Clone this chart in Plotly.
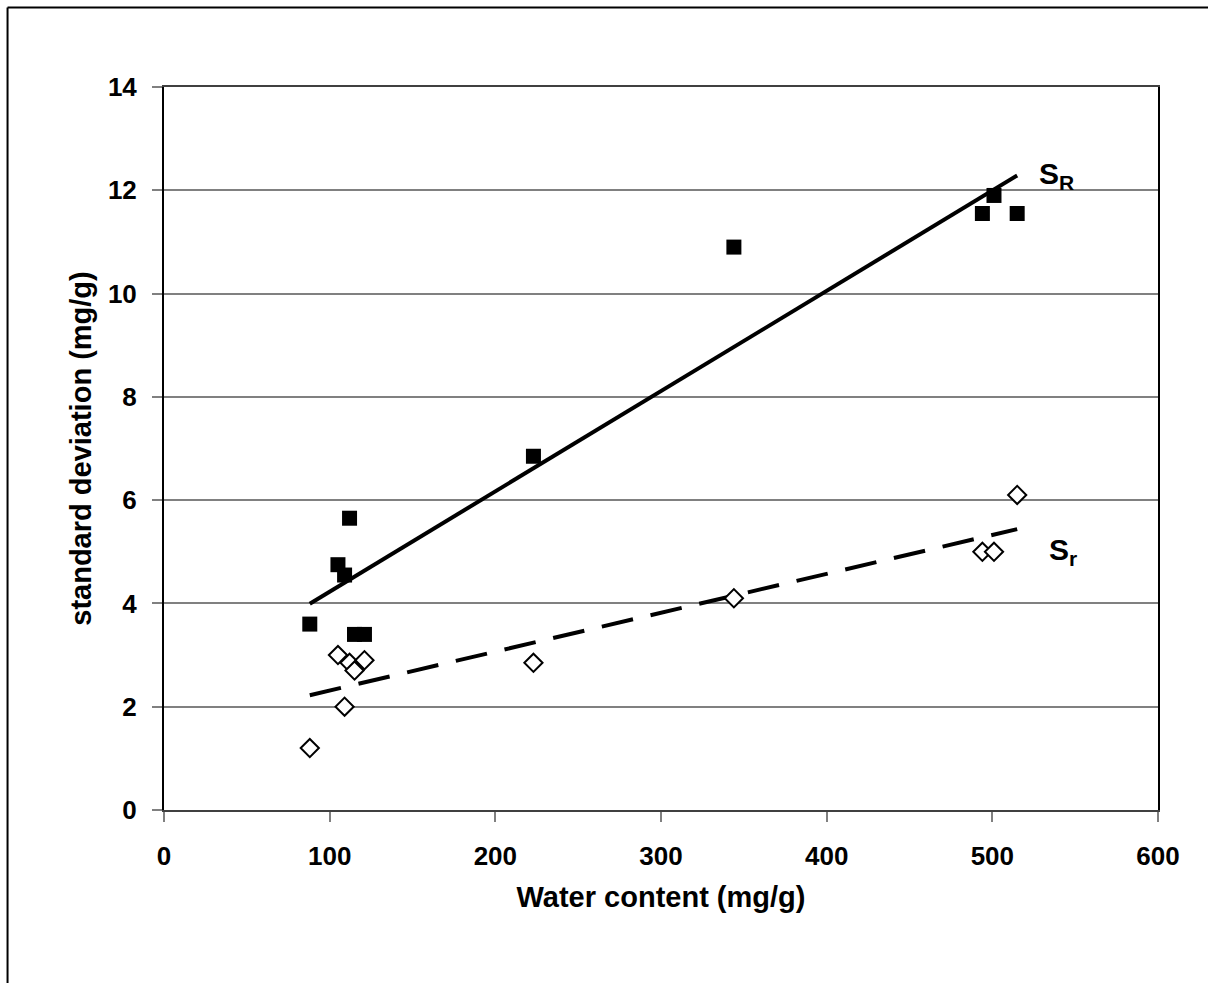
import numpy as np
import plotly.graph_objects as go

# Data
water_content = [88, 105, 109, 112, 115, 121, 223, 344, 494, 501, 515]
s_R = [3.6, 4.75, 4.55, 5.65, 3.4, 3.4, 6.85, 10.9, 11.55, 11.9, 11.55]
s_r = [1.2, 3.0, 2.0, 2.85, 2.7, 2.9, 2.85, 4.1, 5.0, 5.0, 6.1]

x_ticks = [0, 100, 200, 300, 400, 500, 600]
y_ticks = [0, 2, 4, 6, 8, 10, 12, 14]

FONT = "Arial, 'Liberation Sans', sans-serif"

# Linear trend lines (least squares)
x_arr = np.array(water_content, dtype=float)
x_line = np.array([x_arr.min(), x_arr.max()])
cR = np.polyfit(x_arr, np.array(s_R), 1)
cr = np.polyfit(x_arr, np.array(s_r), 1)

fig = go.Figure()
fig.add_trace(go.Scatter(x=x_line, y=np.polyval(cR, x_line), mode="lines",
                         line=dict(color="black", width=4), showlegend=False, hoverinfo="skip"))
fig.add_trace(go.Scatter(x=x_line, y=np.polyval(cr, x_line), mode="lines",
                         line=dict(color="black", width=4, dash="32px,18px"), showlegend=False, hoverinfo="skip"))
fig.add_trace(go.Scatter(x=water_content, y=s_R, mode="markers", name="sR",
                         marker=dict(symbol="square", size=15, color="black", line=dict(width=0)),
                         showlegend=False))
fig.add_trace(go.Scatter(x=water_content, y=s_r, mode="markers", name="sr",
                         marker=dict(symbol="diamond", size=14, color="white", line=dict(width=2, color="black")),
                         showlegend=False))

fig.add_annotation(x=527, y=12.28, xref="x", yref="y", text="S<sub>R</sub>", showarrow=False,
                   xanchor="left", yanchor="middle", font=dict(family=FONT, size=30, color="black", weight="bold"))
fig.add_annotation(x=533, y=5.0, xref="x", yref="y", text="S<sub>r</sub>", showarrow=False,
                   xanchor="left", yanchor="middle", font=dict(family=FONT, size=30, color="black", weight="bold"))

# outer frame (left and top edges visible)
fig.add_shape(type="line", xref="paper", yref="paper", x0=-0.1574, x1=-0.1574, y0=1.110, y1=-0.26,
              line=dict(color="black", width=2))
fig.add_shape(type="line", xref="paper", yref="paper", x0=-0.1574, x1=1.06, y0=1.110, y1=1.110,
              line=dict(color="black", width=2))

fig.update_layout(
    width=1208, height=983,
    margin=dict(l=164, r=50, t=87, b=173),
    paper_bgcolor="white", plot_bgcolor="white",
    font=dict(family=FONT, color="black"),
    xaxis=dict(range=[0, 600], tickvals=x_ticks, ticks="outside", ticklen=10, tickwidth=2,
               tickcolor="#808080", showline=True, linecolor="#404040", linewidth=2, mirror=True,
               showgrid=False, zeroline=False, ticklabelstandoff=12,
               tickfont=dict(family=FONT, size=26, color="black", weight="bold"),
               title=dict(text="Water content (mg/g)", standoff=16,
                          font=dict(family=FONT, size=29, color="black", weight="bold"))),
    yaxis=dict(range=[0, 14], tickvals=y_ticks, ticks="outside", ticklen=10, tickwidth=2,
               tickcolor="#808080", showline=True, linecolor="black", linewidth=2, mirror=True,
               showgrid=True, gridcolor="#808080", gridwidth=1.5, zeroline=False, ticklabelstandoff=10,
               tickfont=dict(family=FONT, size=26, color="black", weight="bold"),
               title=dict(text="standard deviation (mg/g)", standoff=8,
                          font=dict(family=FONT, size=29, color="black", weight="bold"))),
)

fig.write_html("out.html", config={"displayModeBar": False},
               post_script="document.body.style.margin='0';document.body.style.overflow='hidden';")
